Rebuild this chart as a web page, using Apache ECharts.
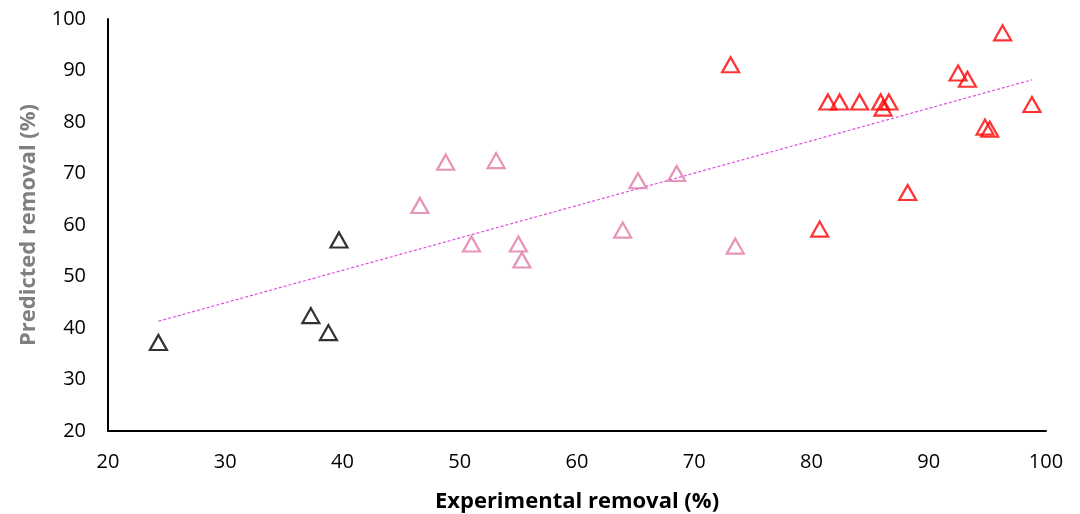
<!DOCTYPE html>
<html>
<head>
<meta charset="utf-8">
<script src="https://cdn.jsdelivr.net/npm/echarts@6/dist/echarts.min.js"></script>
<style>
  html, body { margin: 0; padding: 0; background: #fff; }
  #chart { width: 1080px; height: 514px; }
</style>
</head>
<body>
<div id="chart"></div>
<script>
// [experimental, predicted] pairs
var blackPoints = [[24.3, 37.2], [37.3, 42.4], [38.8, 39.1], [39.7, 57.1]];
var pinkPoints = [[48.8, 72.2], [53.1, 72.5], [46.6, 63.8], [51.0, 56.3], [55.0, 56.3],
  [55.3, 53.2], [65.2, 68.6], [68.5, 70.0], [63.9, 59.0], [73.5, 55.9]];
var redPoints = [[73.1, 91.1], [81.4, 83.9], [82.4, 83.9], [84.1, 83.9], [85.9, 83.9],
  [86.6, 83.9], [86.1, 82.7], [92.5, 89.5], [93.3, 88.3], [96.3, 97.3], [98.8, 83.4],
  [94.8, 79.0], [95.2, 78.6], [88.2, 66.3], [80.7, 59.2]];
var xTicks = [20, 30, 40, 50, 60, 70, 80, 90, 100];
var yTicks = [20, 30, 40, 50, 60, 70, 80, 90, 100];

// linear trend over all points
var all = blackPoints.concat(pinkPoints, redPoints);
var n = all.length, sx = 0, sy = 0, sxx = 0, sxy = 0, minX = Infinity, maxX = -Infinity;
for (var i = 0; i < n; i++) {
  var p = all[i];
  sx += p[0]; sy += p[1]; sxx += p[0] * p[0]; sxy += p[0] * p[1];
  if (p[0] < minX) minX = p[0];
  if (p[0] > maxX) maxX = p[0];
}
var slope = (n * sxy - sx * sy) / (n * sxx - sx * sx);
var icpt = (sy - slope * sx) / n;
var trend = [[minX, icpt + slope * minX], [maxX, icpt + slope * maxX]];

var font = '"Open Sans", "Noto Sans", sans-serif';
function tri(name, data, color) {
  return {
    name: name,
    type: 'scatter',
    data: data,
    symbol: 'triangle',
    symbolSize: [17, 15],
    itemStyle: { color: 'rgba(255,255,255,0)', borderColor: color, borderWidth: 2.2 },
    z: 3
  };
}

var myChart = echarts.init(document.getElementById('chart'));
var option = {
  animation: false,
  grid: { left: 108, right: 34, top: 19, bottom: 83, outerBoundsMode: 'none' },
  xAxis: {
    type: 'value',
    min: xTicks[0], max: xTicks[xTicks.length - 1], interval: 10,
    name: 'Experimental removal (%)',
    nameLocation: 'middle',
    nameGap: 60,
    nameTextStyle: { fontFamily: font, fontSize: 22, fontWeight: 'bold', color: '#000' },
    axisLine: { lineStyle: { color: '#000', width: 2 } },
    axisTick: { show: false },
    splitLine: { show: false },
    axisLabel: { margin: 21, fontFamily: font, fontSize: 20, color: '#000' }
  },
  yAxis: {
    type: 'value',
    min: yTicks[0], max: yTicks[yTicks.length - 1], interval: 10,
    name: 'Predicted removal (%)',
    nameLocation: 'middle',
    nameGap: 68,
    nameTextStyle: { fontFamily: font, fontSize: 22, fontWeight: 'bold', color: '#808080' },
    axisLine: { show: true, lineStyle: { color: '#000', width: 2 } },
    axisTick: { show: false },
    splitLine: { show: false },
    axisLabel: { margin: 22, fontFamily: font, fontSize: 20, color: '#000' }
  },
  series: [
    {
      name: 'trend',
      type: 'line',
      data: trend,
      symbol: 'none',
      lineStyle: { color: '#e050e0', width: 1.2, type: [3, 2] },
      z: 2
    },
    tri('black', blackPoints, '#000000'),
    tri('pink', pinkPoints, '#e07aa6'),
    tri('red', redPoints, '#ff0000')
  ]
};
myChart.setOption(option);
</script>
</body>
</html>
